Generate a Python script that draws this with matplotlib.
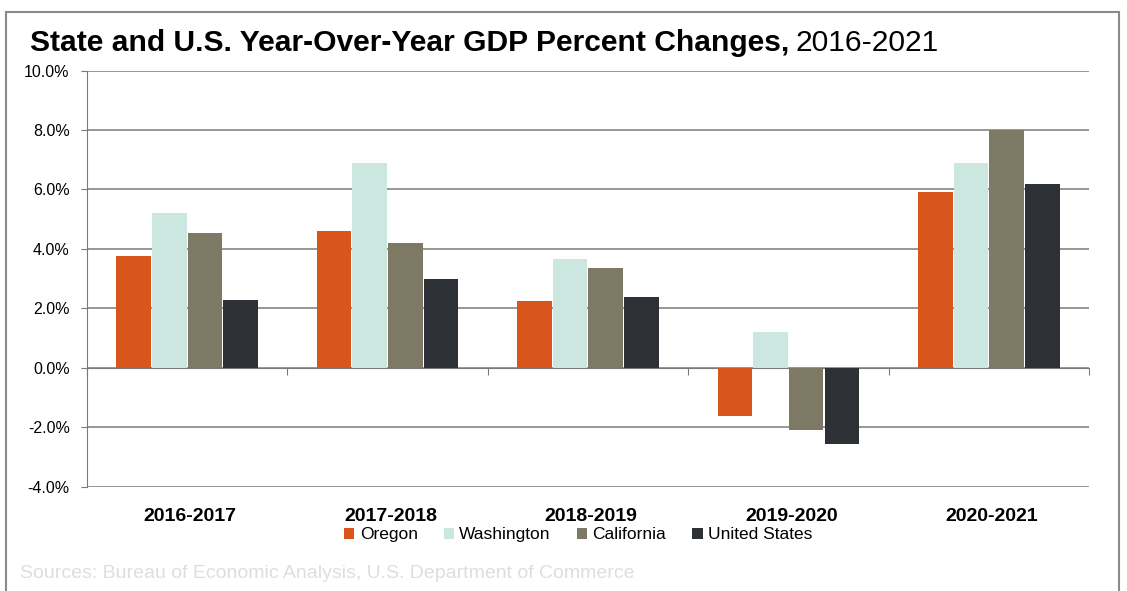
import matplotlib
matplotlib.use("Agg")
import matplotlib.pyplot as plt
import numpy as np
from matplotlib.patches import Rectangle

periods = ["2016-2017", "2017-2018", "2018-2019", "2019-2020", "2020-2021"]
oregon = [3.75, 4.6, 2.25, -1.6, 5.9]
washington = [5.2, 6.9, 3.65, 1.2, 6.9]
california = [4.55, 4.2, 3.35, -2.1, 8.0]
united_states = [2.3, 3.0, 2.4, -2.55, 6.2]
series_names = ["Oregon", "Washington", "California", "United States"]
y_ticks = [-4, -2, 0, 2, 4, 6, 8, 10]

colors = ["#D8561B", "#CCE7DF", "#7D7964", "#2D3034"]

plt.rcParams["font.family"] = ["Liberation Sans", "DejaVu Sans"]

fig = plt.figure(figsize=(11.27, 5.91), dpi=100)
ax = fig.add_axes([0.0772, 0.176, 0.889, 0.7047])

x = np.arange(len(periods))
bw = 0.178
data = [oregon, washington, california, united_states]
for i, (vals, c, nm) in enumerate(zip(data, colors, series_names)):
    ax.bar(x + (i - 1.5) * bw, vals, width=bw * 0.97, color=c, label=nm, zorder=3)

ax.set_xlim(-0.5, len(periods) - 0.5)
ax.set_ylim(-4, 10)
ax.set_yticks(y_ticks)
ax.set_yticklabels([f"{v:.1f}%" for v in y_ticks], fontsize=11.5)
ax.yaxis.grid(True, color="#7a7a7a", lw=1.1, zorder=0)
ax.set_axisbelow(True)

for s in ["top", "right"]:
    ax.spines[s].set_visible(False)
ax.spines["left"].set_color("#7a7a7a")
ax.spines["bottom"].set_position(("data", 0))
ax.spines["bottom"].set_color("#7a7a7a")
ax.set_xticks(np.arange(-0.5, len(periods)))
ax.set_xticklabels([])
ax.tick_params(axis="x", direction="out", length=5, color="#7a7a7a")
ax.tick_params(axis="y", direction="out", length=4.5, color="#7a7a7a", pad=8)

for xi, lab in zip(x, periods):
    ax.text(xi + 0.015, -0.072, lab, transform=ax.get_xaxis_transform(),
            ha="center", va="center", fontsize=14, fontweight="bold")

fig.legend(loc="center", bbox_to_anchor=(0.513, 0.095), ncol=4, frameon=False,
           handlelength=0.6, handleheight=0.6, handletextpad=0.3,
           columnspacing=1.5, prop={"size": 12.5})

ty = 0.927
t = fig.text(0.027, ty, "State and U.S. Year-Over-Year GDP Percent Changes,", fontsize=21.6,
             fontweight="bold", ha="left", va="center")
fig.canvas.draw()
bb = t.get_window_extent()
fig.text(bb.x1 / fig.bbox.width + 0.005, ty, "2016-2021", fontsize=21.6, ha="left", va="center")

fig.text(0.018, 0.03, "Sources: Bureau of Economic Analysis, U.S. Department of Commerce",
         fontsize=14, color="#DEDEDE", ha="left", va="center")

fig.patches.append(Rectangle((0.005, -0.01), 0.988, 0.99, transform=fig.transFigure,
                             fill=False, edgecolor="#8a8a8a", lw=1.5))

fig.savefig("out.png", dpi=100)
